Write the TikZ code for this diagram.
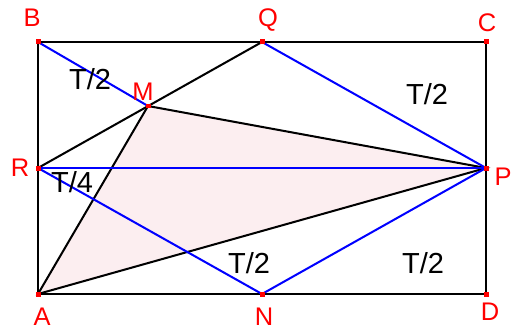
\documentclass[tikz,border=0pt]{standalone}
\usepackage{fontspec}
\setmainfont{Liberation Sans}
\usetikzlibrary{positioning}
\definecolor{ptred}{HTML}{FF0000}
\definecolor{segblue}{HTML}{0000FF}
\definecolor{areapink}{HTML}{FCEEF0}
\tikzset{
  every node/.style={font=\fontsize{14.5}{16}\selectfont},
  ptlabel/.style={text=ptred,inner sep=0pt},
  arealabel/.style={font=\fontsize{16.5}{18}\selectfont,inner sep=0pt},
  edge/.style={draw=black,line width=1.15pt},
  blueseg/.style={draw=segblue,line width=1.15pt},
  marker/.style={fill=ptred,minimum size=0.1cm,inner sep=0pt,draw=none}
}

\begin{document}
\begin{tikzpicture}[x=0.02cm,y=-0.02cm]
  \useasboundingbox (0,0) rectangle (517,331);
  % corners and points
  \coordinate (B) at (38,42);
  \coordinate (Q) at (262,42);
  \coordinate (C) at (486,42);
  \coordinate (R) at (38,168);
  \coordinate (P) at (486,168);
  \coordinate (A) at (38,294);
  \coordinate (N) at (262,294);
  \coordinate (D) at (486,294);
  \coordinate (M) at (148,106);

  \fill[areapink] (A)--(M)--(P)--cycle;

  \draw[edge] (A)--(B)--(C)--(D)--cycle;
  \draw[edge] (R)--(Q);
  \draw[edge] (A)--(M)--(P)--cycle;

  \draw[blueseg] (B)--(M);
  \draw[blueseg] (R)--(P);
  \draw[blueseg] (R)--(N)--(P)--(Q);

  \foreach \p in {A,B,C,D,M,N,P,Q,R}
    \node[marker] (m\p) at (\p) {};

  \node[ptlabel] (lB) at (32,18) {B};
  \node[ptlabel] (lQ) at (268,20) {Q};
  \node[ptlabel] (lC) at (487,23) {C};
  \node[ptlabel] (lM) at (143,92) {M};
  \node[ptlabel] (lR) at (20,168) {R};
  \node[ptlabel] (lP) at (503,177) {P};
  \node[ptlabel] (lA) at (42,317) {A};
  \node[ptlabel] (lN) at (264,317) {N};
  \node[ptlabel] (lD) at (490,312) {D};

  \node[arealabel] (t1) at (90,79) {T/2};
  \node[arealabel] (t2) at (427,94) {T/2};
  \node[arealabel] (t3) at (72,182) {T/4};
  \node[arealabel] (t4) at (249,263) {T/2};
  \node[arealabel] (t5) at (423,263) {T/2};
\end{tikzpicture}
\end{document}
